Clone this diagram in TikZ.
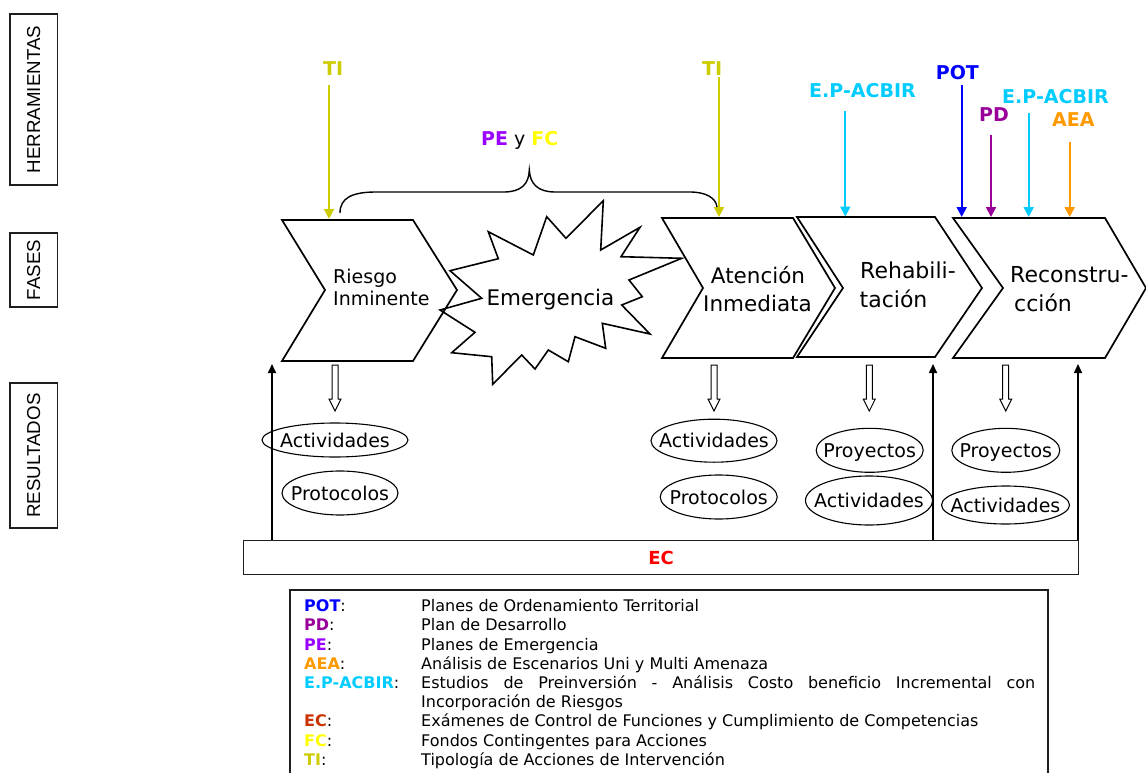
\documentclass[tikz,border=0pt]{standalone}
\usepackage{fontspec}
\setmainfont{DejaVu Sans}
\newfontfamily\sidefont{Liberation Sans}
\usetikzlibrary{arrows.meta,shapes.geometric}

\definecolor{cTI}{RGB}{204,204,0}
\definecolor{cPE}{RGB}{153,0,255}
\definecolor{cFC}{RGB}{255,255,0}
\definecolor{cPOT}{RGB}{0,0,255}
\definecolor{cPD}{RGB}{153,0,153}
\definecolor{cAEA}{RGB}{255,153,0}
\definecolor{cEPA}{RGB}{0,204,255}
\definecolor{cEC}{RGB}{204,51,0}
\definecolor{cECbox}{RGB}{255,0,0}
\definecolor{frame}{RGB}{30,30,30}

\newcommand\setfs[1]{\fontsize{#1}{#1}\selectfont}

\begin{document}
\begin{tikzpicture}[x=1pt,y=-1pt,
  sidebox/.style={draw=frame,line width=1.2pt,rotate=90,inner sep=0pt,
    minimum height=47.5,font=\sidefont\setfs{18.7}},
  chev/.style={draw=black,line width=1.7pt,line join=miter},
  burst/.style={draw=black,line width=1.6pt,line join=miter},
  phase/.style={anchor=base,inner sep=0pt},
  tool/.style={line width=2pt,-{Triangle[width=10pt,length=10pt]}},
  toollabel/.style={anchor=base west,inner sep=0pt,font=\bfseries\setfs{19}},
  hollow/.style={draw=black,line width=1pt,fill=white,line join=miter},
  rise/.style={draw=black,line width=1.6pt,-{Triangle[width=8pt,length=9pt]}},
  result/.style={ellipse,draw=black,line width=1.1pt,inner sep=0pt,
    text height=14pt,text depth=0pt,font=\setfs{19}},
  legkey/.style={anchor=base west,inner sep=0pt,font=\setfs{16}},
  legtext/.style={anchor=base west,inner sep=0pt,font=\setfs{16}}
]
\useasboundingbox (0,0) rectangle (1146,773);

% ---- row captions on the left
\node[sidebox,minimum width=171] (herr) at (33.8,99.5) {HERRAMIENTAS};
\node[sidebox,minimum width=74]  (fases) at (33.8,270) {FASES};
\node[sidebox,minimum width=145] (resul) at (33.8,455.5) {RESULTADOS};

% ---- phases
\draw[chev] (282,220) -- (413,220) -- (457,290) -- (413,361) -- (282,361) -- (325,290) -- cycle;
\draw[chev] (662,218) -- (793,218) -- (835,288) -- (793,358) -- (662,358) -- (703,288) -- cycle;
\draw[chev] (797,217) -- (935,217) -- (982,288) -- (935,357) -- (797,357) -- (843,288) -- cycle;
\draw[chev] (953,218) -- (1105,218) -- (1146,288) -- (1105,358) -- (953,358) -- (1003,288) -- cycle;

\draw[burst] (603.3,200.7) -- (600.7,250) -- (640,227.3) -- (621,256.7) -- (681.7,258.3)
  -- (629,280) -- (642.3,296.7) -- (621.7,305) -- (650,334) -- (602.3,323.3)
  -- (605.7,348.3) -- (575,336.7) -- (568.3,361.7) -- (548.3,350) -- (535,369)
  -- (521.7,355) -- (492.7,384.3) -- (491.7,356.7) -- (451.7,352.7) -- (475,332.3)
  -- (440,310) -- (481.7,298.3) -- (450,270.7) -- (498.3,258.7) -- (488.3,231.7)
  -- (533.3,255) -- (546.7,216.7) -- (566,238.3) -- cycle;

\node[phase,font=\setfs{19},anchor=base west] (riesgo1) at (333,283) {Riesgo};
\node[phase,font=\setfs{19},anchor=base west] (riesgo2) at (333,305) {Inminente};
\node[phase,font=\setfs{21.5}] (emer) at (550.5,305) {Emergencia};
\node[phase,font=\setfs{21.5}] (aten1) at (758,283.3) {Atención};
\node[phase,font=\setfs{21.5}] (aten2) at (757.5,311) {Inmediata};
\node[phase,font=\setfs{22},anchor=base west] (rehab1) at (860,278.5) {Rehabili-};
\node[phase,font=\setfs{22},anchor=base west] (rehab2) at (859.5,307.5) {tación};
\node[phase,font=\setfs{22},anchor=base west] (recon1) at (1010,282.5) {Reconstru-};
\node[phase,font=\setfs{22},anchor=base west] (recon2) at (1014,311) {cción};

% ---- tools
\node[toollabel,text=cTI] (ti1) at (323,75.7) {TI};
\node[toollabel,text=cTI] (ti2) at (702,75.5) {TI};
\node[toollabel,text=cEPA] (epa1) at (809,97.7) {E.P-ACBIR};
\node[toollabel,text=cPOT] (pot) at (935.7,79.3) {POT};
\node[toollabel,text=cPD] (pd) at (979,121.7) {PD};
\node[toollabel,text=cEPA] (epa2) at (1002,104) {E.P-ACBIR};
\node[toollabel,text=cAEA] (aea) at (1052,126.7) {AEA};

\coordinate (tTI1) at (329,219);
\coordinate (tTI2) at (719,217);
\coordinate (tEPA1) at (845.3,216.5);
\coordinate (tPOT) at (961.7,217);
\coordinate (tPD) at (991,217);
\coordinate (tEPA2) at (1028.7,217);
\coordinate (tAEA) at (1069.7,217);

\draw[tool,cTI]  (tTI1 |- 0,85)    -- (tTI1);
\draw[tool,cTI]  (tTI2 |- 0,77)    -- (tTI2);
\draw[tool,cEPA] (tEPA1 |- 0,111)  -- (tEPA1);
\draw[tool,cPOT] (tPOT |- 0,85)    -- (tPOT);
\draw[tool,cPD]  (tPD |- 0,135)    -- (tPD);
\draw[tool,cEPA] (tEPA2 |- 0,113)  -- (tEPA2);
\draw[tool,cAEA] (tAEA |- 0,142)   -- (tAEA);

% brace over the first three phases
\node[anchor=base west,inner sep=0pt,font=\setfs{19}] (pefc) at (481,146)
  {\textbf{\textcolor{cPE}{PE}} y \textbf{\textcolor{cFC}{FC}}};
\draw[line width=1.4pt] (340,213) .. controls (340,198) and (352,192) .. (376,192)
  -- (504,192) .. controls (521,192) and (529,184) .. (529.3,170)
  .. controls (530,184) and (538,192) .. (555,192)
  -- (690,192) .. controls (706,192) and (716,198) .. (717,207);

% ---- results
\newcommand\hollowdown[1]{%
  \draw[hollow] ({#1-3},365) -- ({#1+3},365) -- ({#1+3},399) -- ({#1+6},399)
    -- (#1,411) -- ({#1-6},399) -- ({#1-3},399) -- cycle;}
\hollowdown{335}
\hollowdown{714}
\hollowdown{869.3}
\hollowdown{1005.7}

\node[result,minimum width=146,minimum height=34] (act1) at (335,440) {\makebox[0pt]{Actividades}};
\node[result,minimum width=116,minimum height=44] (pro1) at (340,493) {\makebox[0pt]{Protocolos}};
\node[result,minimum width=126,minimum height=43] (act2) at (714,440.7) {\makebox[0pt]{Actividades}};
\node[result,minimum width=117,minimum height=44] (pro2) at (718.7,497) {\makebox[0pt]{Protocolos}};
\node[result,minimum width=107,minimum height=44] (pry3) at (869.7,450.3) {\makebox[0pt]{Proyectos}};
\node[result,minimum width=127,minimum height=49] (act3) at (869,500.5) {\makebox[0pt]{Actividades}};
\node[result,minimum width=108,minimum height=44] (pry4) at (1005.8,450.3) {\makebox[0pt]{Proyectos}};
\node[result,minimum width=128,minimum height=38] (act4) at (1005.5,505) {\makebox[0pt]{Actividades}};

% ---- control band
\node[draw=frame,line width=1.3pt,minimum width=835,minimum height=34,inner sep=0pt,
  anchor=north west,text=cECbox,font=\bfseries\setfs{18}] (ec) at (243,540) {EC};

\coordinate (u1) at (272,364);
\coordinate (u2) at (933,364);
\coordinate (u3) at (1078,364);
\draw[rise] (ec.north -| u1) -- (u1);
\draw[rise] (ec.north -| u2) -- (u2);
\draw[rise] (ec.north -| u3) -- (u3);

% ---- legend
\draw[frame,line width=1.3pt] (290,775) -- (290,590) -- (1048,590) -- (1048,775);
\node[legkey] (kPOT) at (304,611.7) {\textbf{\textcolor{cPOT}{POT}}:};
\node[legkey] (kPD)  at (304,630.9) {\textbf{\textcolor{cPD}{PD}}:};
\node[legkey] (kPE)  at (304,650.1) {\textbf{\textcolor{cPE}{PE}}:};
\node[legkey] (kAEA) at (304,669.3) {\textbf{\textcolor{cAEA}{AEA}}:};
\node[legkey] (kEPA) at (304,688.5) {\textbf{\textcolor{cEPA}{E.P-ACBIR}}:};
\node[legkey] (kEC)  at (304,726.9) {\textbf{\textcolor{cEC}{EC}}:};
\node[legkey] (kFC)  at (304,746.1) {\textbf{\textcolor{cFC}{FC}}:};
\node[legkey] (kTI)  at (304,765.3) {\textbf{\textcolor{cTI}{TI}}:};

\node[legtext] (dPOT) at (421,611.7) {Planes de Ordenamiento Territorial};
\node[legtext] (dPD)  at (421,630.9) {Plan de Desarrollo};
\node[legtext] (dPE)  at (421,650.1) {Planes de Emergencia};
\node[legtext] (dAEA) at (421,669.3) {Análisis de Escenarios Uni y Multi Amenaza};
\node[legtext] (dEPA) at (421,688.5)
  {\makebox[614pt][s]{Estudios de Preinversión - Análisis Costo beneficio Incremental con}};
\node[legtext] (dEPAb) at (421,707.7) {Incorporación de Riesgos};
\node[legtext] (dEC)  at (421,726.9) {Exámenes de Control de Funciones y Cumplimiento de Competencias};
\node[legtext] (dFC)  at (421,746.1) {Fondos Contingentes para Acciones};
\node[legtext] (dTI)  at (421,765.3) {Tipología de Acciones de Intervención};
\end{tikzpicture}
\end{document}
